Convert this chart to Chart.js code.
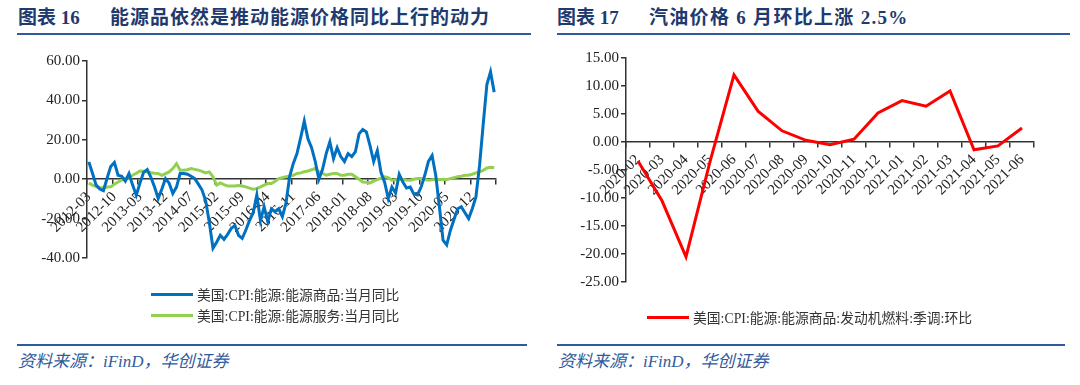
<!DOCTYPE html>
<html><head><meta charset="utf-8">
<script src="https://cdn.jsdelivr.net/npm/chart.js@4.4.1/dist/chart.umd.min.js"></script>
<style>
body{margin:0;background:#fff;}
#wrap{position:relative;width:1080px;height:385px;overflow:hidden;background:#fff;}
.title{position:absolute;top:6px;font-family:"Liberation Serif","Noto Sans CJK SC";font-weight:bold;font-size:19px;color:#1f3a6e;white-space:nowrap;line-height:24px;}
.rule{position:absolute;height:2px;background:#2f5b9c;}
.src{position:absolute;top:351px;font-family:"Liberation Serif","Noto Sans CJK SC";font-style:italic;font-size:17px;color:#2f5b9c;white-space:nowrap;line-height:22px;}
canvas{position:absolute;top:40px;}
.legend{position:absolute;font-family:"Liberation Serif","Noto Sans CJK SC";font-size:13.8px;color:#333;white-space:nowrap;}
.item{display:flex;align-items:center;height:21px;}
.swatch{display:inline-block;width:42px;height:3px;margin-right:4px;}
</style>
</head><body>
<div id="wrap">
  <div class="title" style="left:18px;">图表 16</div>
  <div class="title" style="left:110px;letter-spacing:1px;">能源品依然是推动能源价格同比上行的动力</div>
  <div class="rule" style="left:17px;width:514px;top:33px;"></div>
  <div class="title" style="left:557px;">图表 17</div>
  <div class="title" style="left:649px;letter-spacing:1.3px;">汽油价格 6 月环比上涨 2.5%</div>
  <div class="rule" style="left:557px;width:513px;top:33px;"></div>

  <canvas id="c1" width="540" height="300" style="left:0px;"></canvas>
  <canvas id="c2" width="540" height="300" style="left:540px;"></canvas>

  <div class="legend" id="lg1" style="left:151px;top:283.5px;"></div>
  <div class="legend" id="lg2" style="left:647px;top:306.5px;"></div>

  <div class="rule" style="left:17px;width:510px;top:344px;"></div>
  <div class="rule" style="left:557px;width:508px;top:344px;"></div>
  <div class="src" style="left:18px;">资料来源：iFinD，华创证券</div>
  <div class="src" style="left:558px;">资料来源：iFinD，华创证券</div>
</div>
<script>
// ---------- data ----------
const monthsLeft = [
 '2012-03','2012-04','2012-05','2012-06','2012-07','2012-08','2012-09','2012-10','2012-11','2012-12',
 '2013-01','2013-02','2013-03','2013-04','2013-05','2013-06','2013-07','2013-08','2013-09','2013-10','2013-11','2013-12',
 '2014-01','2014-02','2014-03','2014-04','2014-05','2014-06','2014-07','2014-08','2014-09','2014-10','2014-11','2014-12',
 '2015-01','2015-02','2015-03','2015-04','2015-05','2015-06','2015-07','2015-08','2015-09','2015-10','2015-11','2015-12',
 '2016-01','2016-02','2016-03','2016-04','2016-05','2016-06','2016-07','2016-08','2016-09','2016-10','2016-11','2016-12',
 '2017-01','2017-02','2017-03','2017-04','2017-05','2017-06','2017-07','2017-08','2017-09','2017-10','2017-11','2017-12',
 '2018-01','2018-02','2018-03','2018-04','2018-05','2018-06','2018-07','2018-08','2018-09','2018-10','2018-11','2018-12',
 '2019-01','2019-02','2019-03','2019-04','2019-05','2019-06','2019-07','2019-08','2019-09','2019-10','2019-11','2019-12',
 '2020-01','2020-02','2020-03','2020-04','2020-05','2020-06','2020-07','2020-08','2020-09','2020-10','2020-11','2020-12',
 '2021-01','2021-02','2021-03','2021-04','2021-05','2021-06'
];
const energyGoodsYoY = [
 8.8,3.0,-3.0,-5.0,-5.8,0.5,6.5,8.5,2.0,1.5,
 -1.0,2.9,-3.0,-8.1,-2.0,3.5,4.9,1.0,-4.0,-9.8,
 -5.0,0.3,-2.0,-7.2,-4.0,2.9,2.9,2.5,1.5,0.3,
 -2.5,-5.5,-11.0,-22.0,-35.0,-32.0,-28.5,-30.5,-28.0,-25.0,
 -23.5,-28.5,-30.0,-25.8,-21.0,-17.0,-8.0,-21.0,-14.0,-21.5,
 -15.0,-16.5,-15.0,-19.0,-12.0,1.5,8.0,13.0,21.0,29.5,
 20.5,16.0,9.0,0.0,5.0,13.0,19.0,10.5,16.0,11.5,
 9.0,13.0,11.5,14.0,23.0,25.2,24.0,17.0,9.0,14.5,
 3.5,-1.5,-9.8,-4.0,-7.0,2.5,-1.5,-4.5,-4.0,-7.5,
 -8.0,-4.0,2.0,9.0,12.0,2.0,-14.0,-31.0,-33.4,-26.0,
 -20.5,-15.0,-14.0,-17.0,-20.0,-15.0,-9.0,7.0,28.0,48.0,
 54.5,44.2
];
const energyServicesYoY = [
 -2.0,-3.0,-3.8,-4.2,-4.4,-4.0,-3.9,-2.5,-1.4,-0.5,
 0.3,1.2,2.0,3.0,4.2,4.0,3.7,3.3,3.0,2.9,
 2.0,2.8,3.7,5.4,7.9,4.6,4.6,4.8,5.4,5.0,
 4.6,4.0,3.2,3.7,1.2,-3.0,-1.9,-2.8,-3.5,-3.5,
 -3.4,-3.2,-3.5,-3.9,-4.5,-5.1,-4.8,-3.9,-3.0,-2.2,
 -2.2,-1.0,0.3,0.8,1.2,1.5,2.0,2.9,3.2,3.8,
 4.2,4.8,5.4,3.7,3.0,2.0,2.5,2.9,2.9,2.0,
 2.0,2.5,2.5,1.2,0.0,-1.4,-1.6,-1.9,-1.0,-0.2,
 0.5,1.2,0.8,-0.5,-0.3,-0.2,-0.2,-0.4,-0.5,0.0,
 0.3,0.3,-0.2,-0.5,-0.3,-0.2,-0.2,-0.2,-0.2,0.3,
 0.8,1.2,1.5,2.0,2.0,2.5,3.2,3.7,4.5,5.7,
 6.0,5.9
];
const leftTickEvery = 7;
const leftYTicks = [-40, -20, 0, 20, 40, 60];

const monthsRight = ['2020-02','2020-03','2020-04','2020-05','2020-06','2020-07','2020-08','2020-09','2020-10','2020-11','2020-12','2021-01','2021-02','2021-03','2021-04','2021-05','2021-06'];
const motorFuelMoM = [-3.4,-10.5,-20.5,-3.5,12.0,5.5,2.0,0.3,-0.5,0.5,5.2,7.4,6.4,9.1,-1.4,-0.7,2.5];
const rightYTicks = [-25, -20, -15, -10, -5, 0, 5, 10, 15];

const seriesLeft = [
  {name:'美国:CPI:能源:能源商品:当月同比', data: energyGoodsYoY, color:'#0070C0'},
  {name:'美国:CPI:能源:能源服务:当月同比', data: energyServicesYoY, color:'#92D050'}
];
const seriesRight = [
  {name:'美国:CPI:能源:能源商品:发动机燃料:季调:环比', data: motorFuelMoM, color:'#FF0000'}
];

// ---------- charts ----------
const AX = '#333';
const tickFont = {family:'"Liberation Serif", "Times New Roman", serif', size:15};

function makeChart(id, labels, series, yTicks, opts) {
  return new Chart(document.getElementById(id), {
    type: 'line',
    data: {
      labels: labels,
      datasets: series.map(s => ({
        label: s.name, data: s.data, borderColor: s.color, backgroundColor: s.color,
        borderWidth: 3, pointRadius: 0, tension: 0, fill: false
      }))
    },
    options: {
      responsive: false, animation: false, devicePixelRatio: 1,
      layout: {padding: opts.padding},
      plugins: {legend: {display: false}, tooltip: {enabled: false}},
      scales: {
        x: {
          type: 'category', offset: true,
          position: {y: 0},
          afterFit: s => { s.height = 0; },
          grid: {
            offset: true, drawOnChartArea: false, drawTicks: true, tickLength: 5,
            lineWidth: 1.5,
            color: c => (c.index === undefined || c.index % opts.every === 0) ? AX : 'rgba(0,0,0,0)'
          },
          border: {display: true, color: AX, width: 1.5},
          ticks: {
            autoSkip: false, minRotation: 45, maxRotation: 45, padding: 4,
            color: '#222', font: tickFont,
            callback: (v, i) => (i % opts.every === 0) ? labels[i] : ''
          }
        },
        y: {
          min: yTicks[0], max: yTicks[yTicks.length - 1],
          afterFit: s => { s.width = opts.yWidth; },
          afterBuildTicks: s => { s.ticks = yTicks.map(v => ({value: v})); },
          grid: {drawOnChartArea: false, drawTicks: true, tickLength: 5, color: AX, lineWidth: 1.5},
          border: {display: true, color: AX, width: 1.5},
          ticks: {padding: 2, color: '#222', font: tickFont, callback: v => Number(v).toFixed(2)}
        }
      }
    }
  });
}

makeChart('c1', monthsLeft, seriesLeft, leftYTicks,
  {padding: {left: 0, top: 21, right: 44, bottom: 82}, yWidth: 87, every: leftTickEvery});
makeChart('c2', monthsRight, seriesRight, rightYTicks,
  {padding: {left: 0, top: 18, right: 46, bottom: 58}, yWidth: 86, every: 1});

function legend(el, series) {
  const box = document.getElementById(el);
  series.forEach(s => {
    const it = document.createElement('div'); it.className = 'item';
    const sw = document.createElement('span'); sw.className = 'swatch'; sw.style.background = s.color;
    const tx = document.createElement('span'); tx.textContent = s.name;
    it.appendChild(sw); it.appendChild(tx); box.appendChild(it);
  });
}
legend('lg1', seriesLeft);
legend('lg2', seriesRight);
</script>
</body></html>
